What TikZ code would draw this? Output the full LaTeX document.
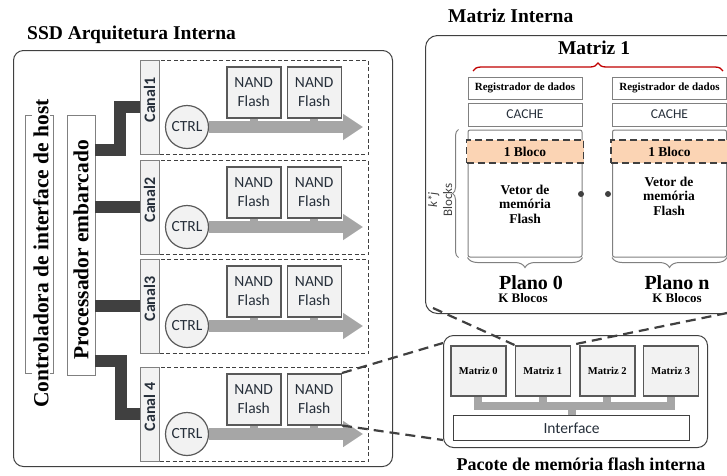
\documentclass[tikz,border=0pt]{standalone}
\usepackage{fontspec}
\setmainfont{Liberation Serif}
\newfontfamily\sansfnt{Carlito}
\usetikzlibrary{positioning,arrows.meta,decorations.pathreplacing}
\definecolor{darkline}{HTML}{404040}
\definecolor{boxline}{HTML}{595959}
\definecolor{lightfill}{HTML}{F2F2F2}
\definecolor{flowgray}{HTML}{A6A6A6}
\definecolor{peach}{HTML}{FBD4B4}
\definecolor{bracered}{HTML}{C00000}
\definecolor{slatetext}{HTML}{262F3A}
\tikzstyle{headline} = [inner sep=0pt, font=\bfseries\fontsize{19.5}{22}\selectfont]
\tikzstyle{outerbox} = [rectangle, draw=darkline, line width=1pt, rounded corners=10pt, inner sep=0pt, anchor=north west]
\tikzstyle{vertlabel} = [rotate=90, fill=white, inner sep=1pt, font=\bfseries\fontsize{21.5}{24}\selectfont]
\tikzstyle{sidebox} = [rectangle, draw=gray, fill=white, minimum width=28pt, inner sep=0pt]
\tikzstyle{chanbox} = [rectangle, draw=darkline, line width=1.2pt, dash pattern=on 4pt off 2.5pt, minimum width=209pt, minimum height=94pt, inner sep=0pt, anchor=north west]
\tikzstyle{canalbar} = [rectangle, draw=gray, fill=lightfill, minimum width=19pt, minimum height=94pt, inner sep=0pt]
\tikzstyle{canaltext} = [rotate=90, inner sep=0pt, text=slatetext, font=\sansfnt\bfseries\fontsize{16}{18}\selectfont]
\tikzstyle{nandbox} = [rectangle, draw=boxline, line width=1.5pt, fill=lightfill, minimum width=54pt, minimum height=51pt, inner sep=0pt, align=center, text=slatetext, font=\sansfnt\fontsize{15.5}{19}\selectfont]
\tikzstyle{ctrlnode} = [circle, draw=boxline, line width=1.2pt, fill=lightfill, minimum size=43pt, inner sep=0pt, text=slatetext, font=\sansfnt\fontsize{15.5}{18}\selectfont]
\tikzstyle{flowarrow} = [draw=flowgray, line width=12pt, -{Triangle[width=25pt,length=20pt]}]
\tikzstyle{stem} = [draw=flowgray, line width=8pt]
\tikzstyle{busline} = [draw=darkline, line width=12pt]
\tikzstyle{regbox} = [rectangle, draw=gray, line width=1pt, minimum width=114pt, minimum height=22pt, inner sep=0pt, font=\bfseries\fontsize{11}{12}\selectfont]
\tikzstyle{cachebox} = [rectangle, draw=gray, line width=1pt, minimum width=114pt, minimum height=23pt, inner sep=0pt, text=slatetext, font=\sansfnt\fontsize{13.5}{15}\selectfont]
\tikzstyle{planebox} = [rectangle, draw=gray, line width=1pt, rounded corners=2pt, minimum width=114pt, minimum height=127pt, inner sep=0pt]
\tikzstyle{blocobox} = [rectangle, draw=darkline, fill=peach, line width=1.8pt, dash pattern=on 7pt off 4pt, minimum width=117pt, minimum height=23pt, inner sep=0pt, font=\bfseries\fontsize{13.5}{15}\selectfont]
\tikzstyle{vetortext} = [align=center, inner sep=0pt, font=\bfseries\fontsize{13.5}{14.5}\selectfont]
\tikzstyle{dotnode} = [circle, fill=darkline, minimum size=6pt, inner sep=0pt]
\tikzstyle{graybrace} = [draw=gray, line width=1pt, decorate]
\tikzstyle{planolabel} = [anchor=base, inner sep=0pt, font=\bfseries\fontsize{20}{22}\selectfont]
\tikzstyle{kblabel} = [anchor=base, inner sep=0pt, font=\bfseries\fontsize{13}{14}\selectfont]
\tikzstyle{matrizbox} = [rectangle, draw=boxline, line width=1.5pt, fill=lightfill, minimum width=55pt, minimum height=50pt, inner sep=0pt, font=\bfseries\fontsize{10.5}{12}\selectfont]
\tikzstyle{ifacebox} = [rectangle, draw=darkline, line width=1.2pt, minimum width=236pt, minimum height=25pt, inner sep=0pt, text=slatetext, font=\sansfnt\fontsize{15.5}{17}\selectfont]
\tikzstyle{zoomline} = [draw=darkline, line width=2.2pt, dash pattern=on 10pt off 6pt]

\begin{document}
\begin{tikzpicture}[x=1pt,y=-1pt]
\useasboundingbox (0,0) rectangle (727,475);

% SSD lado esquerdo
\node (ssdtitle) [headline, anchor=base west] at (27,39.5) {SSD Arquitetura Interna};
\node (ssdbox) [outerbox, minimum width=379pt, minimum height=416pt] at (13,50) {};

\node (hostbox) [sidebox, minimum height=258pt] at (39,244) {};
\node (hosttxt) [vertlabel] at (41,253.5) {Controladora de interface de host};
\node (proc) [sidebox, minimum height=260pt] at (81,245) {};
\node (proctxt) [vertlabel] at (81,250) {Processador embarcado};

% canais
\node (chan1) [chanbox] at (159,60) {};
\node (chan2) [chanbox] at (159,160) {};
\node (chan3) [chanbox] at (159,259) {};
\node (chan4) [chanbox] at (159,367) {};
\node (canal1) [canalbar] at (149.5,107) {};
\node (canal2) [canalbar] at (149.5,207) {};
\node (canal3) [canalbar] at (149.5,306) {};
\node (canal4) [canalbar] at (149.5,414) {};
\node (canal1txt) [canaltext] at ([yshift=7pt]canal1.center) {Canal1};
\node (canal2txt) [canaltext] at ([yshift=7pt]canal2.center) {Canal2};
\node (canal3txt) [canaltext] at ([yshift=7pt]canal3.center) {Canal3};
\node (canal4txt) [canaltext] at ([yshift=7pt]canal4.center) {Canal 4};

\coordinate (pout1) at (95,150);
\coordinate (pout4) at (95,361);
\draw [busline] (pout1) -- ++(25,0) |- (canal1.west);
\draw [busline] (proc.east |- canal2.west) -- (canal2.west);
\draw [busline] (proc.east |- canal3.west) -- (canal3.west);
\draw [busline] (pout4) -- ++(26,0) |- (canal4.west);

\node (nand1a) [nandbox, anchor=north west] at (226,66) {NAND\\Flash};
\node (nand1b) [nandbox, right=5pt of nand1a] {NAND\\Flash};
\node (nand2a) [nandbox, anchor=north west] at (226,166) {NAND\\Flash};
\node (nand2b) [nandbox, right=5pt of nand2a] {NAND\\Flash};
\node (nand3a) [nandbox, anchor=north west] at (226,265) {NAND\\Flash};
\node (nand3b) [nandbox, right=5pt of nand3a] {NAND\\Flash};
\node (nand4a) [nandbox, anchor=north west] at (226,373) {NAND\\Flash};
\node (nand4b) [nandbox, right=5pt of nand4a] {NAND\\Flash};

\node (ctrl1) [ctrlnode] at (187,127) {CTRL};
\node (ctrl2) [ctrlnode] at (187,227) {CTRL};
\node (ctrl3) [ctrlnode] at (187,326) {CTRL};
\node (ctrl4) [ctrlnode] at (187,434) {CTRL};
\coordinate (end1) at (363,127);
\coordinate (end2) at (363,227);
\coordinate (end3) at (363,326);
\coordinate (end4) at (363,434);

\draw [stem] (nand1a) -- (nand1a |- ctrl1);
\draw [stem] (nand1b) -- (nand1b |- ctrl1);
\draw [stem] (nand2a) -- (nand2a |- ctrl2);
\draw [stem] (nand2b) -- (nand2b |- ctrl2);
\draw [stem] (nand3a) -- (nand3a |- ctrl3);
\draw [stem] (nand3b) -- (nand3b |- ctrl3);
\draw [stem] (nand4a) -- (nand4a |- ctrl4);
\draw [stem] (nand4b) -- (nand4b |- ctrl4);
\draw [flowarrow] (ctrl1) -- (end1);
\draw [flowarrow] (ctrl2) -- (end2);
\draw [flowarrow] (ctrl3) -- (end3);
\draw [flowarrow] (ctrl4) -- (end4);

% matriz interna
\node (mititle) [headline, anchor=base west] at (448,22.5) {Matriz Interna};
\node (matint) [outerbox, rounded corners=12pt, minimum width=330pt, minimum height=278pt] at (425,35) {};
\node (m1title) [headline, anchor=base] at (594,54) {Matriz 1};
\coordinate (mleft) at (473,71);
\coordinate (mright) at (723,71);
\draw [draw=bracered, line width=1.3pt, decorate, decoration={brace, amplitude=8pt}] (mleft) -- (mright);

\node (reg0) [regbox] at (525,88) {Registrador de dados};
\node (cache0) [cachebox] at (525,114.5) {CACHE};
\node (plane0) [planebox] at (525,193.5) {};
\node (bloco0) [blocobox] at (525,151.5) {1 Bloco};
\node (vetor0) [vetortext] at (525,204) {Vetor de\\memória\\Flash};
\node (regn) [regbox] at (669.5,88) {Registrador de dados};
\node (cachen) [cachebox] at (669.5,114.5) {CACHE};
\node (planen) [planebox] at (669.5,193.5) {};
\node (blocon) [blocobox] at (669.5,151.5) {1 Bloco};
\node (vetorn) [vetortext] at (669,196) {Vetor de\\memória\\Flash};
\node (dot0) [dotnode] at (581,194) {};
\node (dot1) [dotnode] at (608,194) {};

\draw [graybrace, decoration={brace, amplitude=6pt}] ([xshift=-9pt]plane0.south west) -- ([xshift=-9pt]plane0.north west);
\node (kjblocks) [rotate=90, align=center, inner sep=0pt, text=darkline, font=\sansfnt\fontsize{13}{15}\selectfont] at (440,200) {\itshape k*j\\Blocks};
\draw [graybrace, decoration={brace, mirror, amplitude=10pt}] (plane0.south west) -- (plane0.south east);
\draw [graybrace, decoration={brace, mirror, amplitude=10pt}] (planen.south west) -- (planen.south east);
\node (plano0) [planolabel] at (531,289) {Plano 0};
\node (kblocos0) [kblabel] at (523,302.5) {K Blocos};
\node (planon) [planolabel] at (677,289) {Plano n};
\node (kblocosn) [kblabel] at (677,302.5) {K Blocos};

% pacote
\node (pacote) [outerbox, minimum width=264pt, minimum height=112pt] at (443,335) {};
\node (m0) [matrizbox, anchor=north west] at (450,345) {Matriz 0};
\node (m1) [matrizbox, right=8pt of m0] {Matriz 1};
\node (m2) [matrizbox, right=8pt of m1] {Matriz 2};
\node (m3) [matrizbox, right=7pt of m2] {Matriz 3};
\node (iface) [ifacebox, anchor=north west] at (453,415) {Interface};
\coordinate (busy) at (0,406);
\draw [stem] (m0.south) -- (m0.south |- busy) -- (m3.south |- busy) -- (m3.south);
\draw [stem] (m1.south) -- (m1.south |- busy);
\draw [stem] (m2.south) -- (m2.south |- busy);
\draw [stem] (iface.north) -- (iface.north |- busy);
\node (pactitle) [anchor=base, inner sep=0pt, font=\bfseries\fontsize{18}{20}\selectfont] at (581,470) {Pacote de memória flash interna};

% linhas de zoom
\coordinate (mibl) at (433,308);
\coordinate (mibr) at (727,313);
\draw [zoomline] (mibl) -- (m1.north west);
\draw [zoomline] (mibr) -- (m1.north east);
\draw [zoomline] (nand4b.north east) -- ([yshift=-8pt]pacote.north west);
\draw [zoomline] (nand4b.south east) -- ([yshift=8pt]pacote.south west);

\end{tikzpicture}
\end{document}
